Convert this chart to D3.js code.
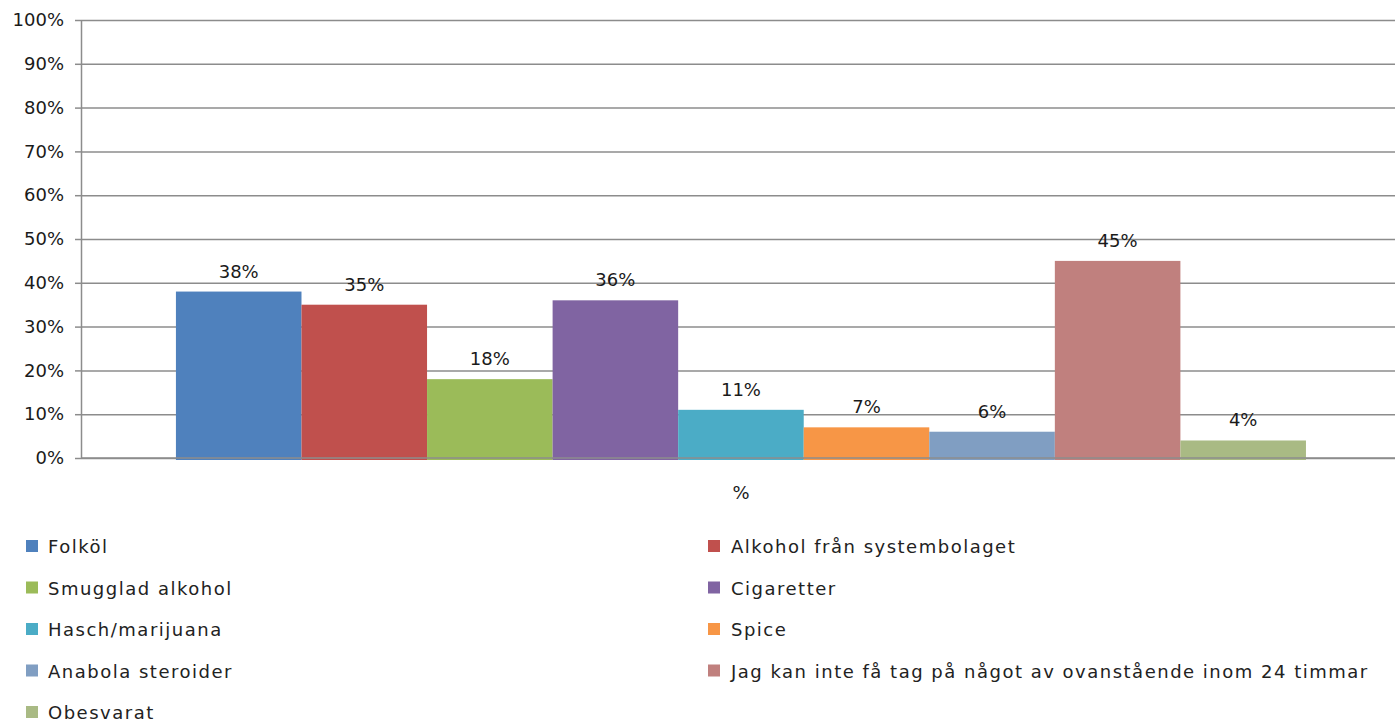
<!DOCTYPE html>
<html>
<head>
<meta charset="utf-8">
<script src="https://cdn.jsdelivr.net/npm/d3@7"></script>
<style>
body { margin: 0; background: #fff; }
svg text { font-family: "DejaVu Sans", Verdana, sans-serif; fill: #1a1a1a; }
.grid line { stroke: #8c8c8c; stroke-width: 1.5; }
.grid path { display: none; }
.yaxis path, .yaxis line { stroke: #8c8c8c; stroke-width: 1.5; }
</style>
</head>
<body>
<script>
// data
var categories = ["%"];
var series = ["Folköl", "Alkohol från systembolaget", "Smugglad alkohol", "Cigaretter",
  "Hasch/marijuana", "Spice", "Anabola steroider",
  "Jag kan inte få tag på något av ovanstående inom 24 timmar", "Obesvarat"];
var values = [0.38, 0.35, 0.18, 0.36, 0.11, 0.07, 0.06, 0.45, 0.04];
var colors = ["#4f81bd", "#c0504d", "#9bbb59", "#8064a2", "#4bacc6", "#f79646",
  "#809ec2", "#c0807e", "#a9ba84"];
var yTicks = [0, 0.1, 0.2, 0.3, 0.4, 0.5, 0.6, 0.7, 0.8, 0.9, 1];

var width = 1395, height = 722;
var margin = {top: 20, left: 81, right: 0};
var plotH = 438, plotW = width - margin.left - margin.right;

var svg = d3.select("body").append("svg")
  .attr("width", width)
  .attr("height", height);

var g = svg.append("g").attr("transform", "translate(" + margin.left + "," + margin.top + ")");

var y = d3.scaleLinear().domain([0, 1]).range([plotH, 0]);
var x0 = d3.scaleBand().domain(categories).range([0, plotW]).paddingOuter(0.0814).align(0.516);
var x1 = d3.scaleBand().domain(series).range([0, x0.bandwidth()]);

// gridlines
g.append("g").attr("class", "grid")
  .call(d3.axisLeft(y).tickValues(yTicks).tickSize(-plotW).tickFormat(""));

// bars
var grp = g.append("g").attr("transform", "translate(" + x0("%") + ",0)");
grp.selectAll("rect")
  .data(values)
  .enter()
  .append("rect")
  .attr("x", function(d, i){ return x1(series[i]); })
  .attr("y", function(d){ return y(d); })
  .attr("width", x1.bandwidth())
  .attr("height", function(d){ return y(0) - y(d) + 2; })
  .style("fill", function(d, i){ return colors[i]; });

grp.selectAll("text.val")
  .data(values)
  .enter()
  .append("text")
  .attr("class", "val")
  .attr("x", function(d, i){ return x1(series[i]) + x1.bandwidth() / 2; })
  .attr("y", function(d){ return y(d) - 14; })
  .attr("text-anchor", "middle")
  .style("font-size", "18px")
  .text(function(d){ return d3.format(".0%")(d); });

// zero line over the bars
g.append("line")
  .attr("x1", 0).attr("x2", plotW)
  .attr("y1", y(0)).attr("y2", y(0))
  .style("stroke", "#8c8c8c").style("stroke-width", 1.5);

// y axis
var yAxis = g.append("g").attr("class", "yaxis")
  .call(d3.axisLeft(y).tickValues(yTicks).tickSize(6).tickSizeOuter(0).tickPadding(11)
    .tickFormat(d3.format(".0%")));
yAxis.selectAll("text").style("font-size", "18px").style("fill", "#1a1a1a");

// category label
g.append("text")
  .attr("x", x0("%") + x0.bandwidth() / 2)
  .attr("y", plotH + 41)
  .attr("text-anchor", "middle")
  .style("font-size", "18px")
  .text(categories[0]);

// legend
var legend = svg.append("g").attr("transform", "translate(26,546)");
var item = legend.selectAll("g")
  .data(series)
  .enter()
  .append("g")
  .attr("transform", function(d, i){
    return "translate(" + (i % 2 ? 682 : 0) + "," + Math.floor(i / 2) * 41.5 + ")";
  });
item.append("rect")
  .attr("x", 0).attr("y", -6)
  .attr("width", 12).attr("height", 12)
  .style("fill", function(d, i){ return colors[i]; });
item.append("text")
  .attr("x", function(d, i){ return i % 2 ? 23 : 22; })
  .attr("y", 7)
  .style("font-size", "18px")
  .style("letter-spacing", "1.5px")
  .style("fill", "#222")
  .text(function(d){ return d; });
</script>
</body>
</html>
